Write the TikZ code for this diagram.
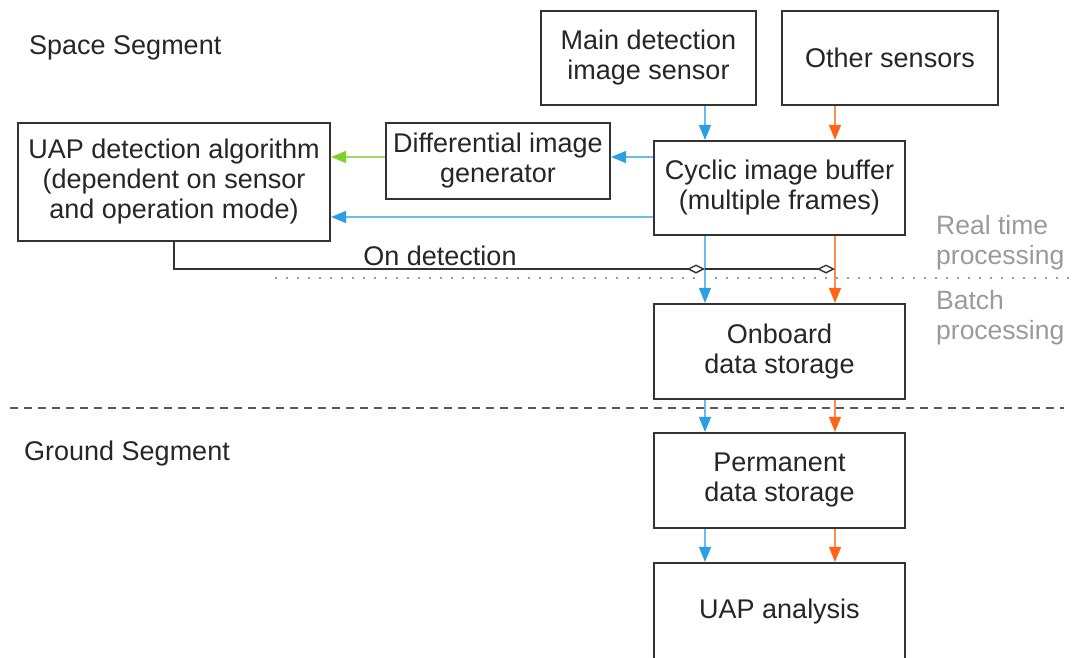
\documentclass[tikz,border=0pt]{standalone}
\usepackage{fontspec}
\setmainfont{Liberation Sans}
\usetikzlibrary{arrows.meta}
\definecolor{blueflow}{HTML}{2A9FE2}
\definecolor{orangeflow}{HTML}{FF6614}
\definecolor{greenflow}{HTML}{7ED22C}
\definecolor{boxline}{HTML}{333333}
\definecolor{note}{HTML}{9A9A9A}
\tikzset{
  box/.style={draw=boxline, line width=2.2pt, fill=white, align=center,
    inner sep=0pt, font=\fontsize{27}{30}\selectfont, text=black!85},
  flow/.style={line width=1.4pt, -{Triangle[width=12pt,length=15pt]}},
  bflow/.style={flow, draw=blueflow!70, -{Triangle[width=12pt,length=15pt,fill=blueflow,color=blueflow]}},
  oflow/.style={flow, draw=orangeflow!75, -{Triangle[width=12pt,length=15pt,fill=orangeflow,color=orangeflow]}},
  gflow/.style={flow, draw=greenflow!75, -{Triangle[width=12pt,length=15pt,fill=greenflow,color=greenflow]}},
  trigger/.style={draw=boxline, line width=1.4pt, -{Diamond[open,length=18pt,width=9pt]}},
  label/.style={font=\fontsize{27}{30}\selectfont, text=black!85, inner sep=0pt},
  notelabel/.style={font=\fontsize{26.5}{30}\selectfont, text=note, align=left, inner sep=0pt, anchor=west},
}
\begin{document}
\begin{tikzpicture}[x=1pt,y=-1pt]
  \useasboundingbox (0,0) rectangle (1072,657);
  \clip (0,0) rectangle (1072,657);

  % section separators
  \draw[note, line width=1.6pt, dash pattern=on 1.6pt off 9.4pt] (275,278) -- (1072,278);
  \draw[black!65, line width=1.5pt, dash pattern=on 8pt off 6pt] (10,408) -- (1064,408);

  % processing blocks
  \node[box, minimum width=215pt, minimum height=94pt] (main) at (648.5,58) {Main detection\\image sensor};
  \node[box, minimum width=216pt, minimum height=94pt] (other) at (890,58) {Other sensors};
  \node[box, minimum width=251pt, minimum height=94pt] (cyc) at (779.5,188) {Cyclic image buffer\\(multiple frames)};
  \node[box, minimum width=224pt, minimum height=76pt] (dif) at (498,161) {Differential image\\generator};
  \node[box, minimum width=312pt, minimum height=118pt] (alg) at (174,182) {UAP detection algorithm\\(dependent on sensor\\and operation mode)};
  \node[box, minimum width=251pt, minimum height=95pt] (onb) at (779.5,351.5) {Onboard\\data storage};
  \node[box, minimum width=251pt, minimum height=95pt] (perm) at (779.5,480.5) {Permanent\\data storage};
  \node[box, minimum width=251pt, minimum height=98pt] (ana) at (779.5,612) {UAP analysis};

  % columns of the two data streams
  \coordinate (bx) at (705,0);
  \coordinate (ox) at (835,0);
  \coordinate (r1) at (0,157);
  \coordinate (r2) at (0,217);
  \coordinate (r3) at (0,269);

  % image streams
  \draw[bflow] (main.south -| bx) -- (cyc.north -| bx);
  \draw[oflow] (other.south -| ox) -- (cyc.north -| ox);
  \draw[bflow] (cyc.south -| bx) -- (onb.north -| bx);
  \draw[oflow] (cyc.south -| ox) -- (onb.north -| ox);
  \draw[bflow] (onb.south -| bx) -- (perm.north -| bx);
  \draw[oflow] (onb.south -| ox) -- (perm.north -| ox);
  \draw[bflow] (perm.south -| bx) -- (ana.north -| bx);
  \draw[oflow] (perm.south -| ox) -- (ana.north -| ox);

  % real time detection chain
  \draw[bflow] (cyc.west |- r1) -- (dif.east |- r1);
  \draw[gflow] (dif.west |- r1) -- (alg.east |- r1);
  \draw[bflow] (cyc.west |- r2) -- (alg.east |- r2);

  % detection trigger
  \coordinate (tb) at (bx |- r3);
  \coordinate (to) at (ox |- r3);
  \draw[trigger] (alg.south) |- (tb);
  \draw[trigger] (tb) -- (to);
  \node[label] (ondet) at (440,256) {On detection};

  % annotations
  \node[label, anchor=west] (space) at (29,48) {Space Segment};
  \node[label, anchor=west] (ground) at (24,454) {Ground Segment};
  \node[notelabel] (rt) at (936,243) {Real time\\processing};
  \node[notelabel] (bp) at (936,318) {Batch\\processing};
\end{tikzpicture}
\end{document}
